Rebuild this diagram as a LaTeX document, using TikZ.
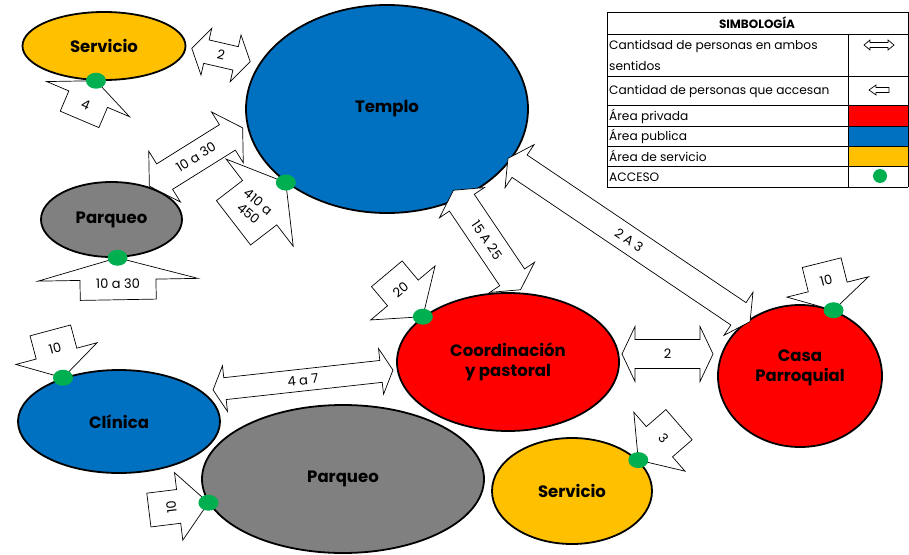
\documentclass[tikz,border=0pt]{standalone}
\usepackage{fontspec}
\setmainfont{Poppins}
\usepackage{tikz}
\usetikzlibrary{shapes.geometric}
\usepackage{xcolor}

\definecolor{amarillo}{HTML}{FFC000}
\definecolor{azul}{HTML}{0070C0}
\definecolor{gris}{HTML}{808080}
\definecolor{rojo}{HTML}{FF0000}
\definecolor{verde}{HTML}{00B050}

% block arrow into an access point: tip, angle, length, head, head half width, body half width, text angle, text
\newcommand{\entrada}[8]{%
  \begin{scope}[shift={(#1)},rotate=#2]
    \draw[flecha] (0,0) -- (-#4,#5) -- (-#4,#6) -- (-#3,#6) -- (-#3,-#6)
      -- (-#4,-#6) -- (-#4,-#5) -- cycle;
    \node[numero,rotate=#7] (#1-n) at ({-0.62*#3},0) {#8};
  \end{scope}}
% two-way block arrow: name, centre, angle, half length, head, head half width, body half width, text
\newcommand{\ambos}[8]{%
  \begin{scope}[shift={#2},rotate=#3]
    \draw[flecha] (#4,0) -- ({#4-#5},#6) -- ({#4-#5},#7) -- ({-#4+#5},#7)
      -- ({-#4+#5},#6) -- (-#4,0) -- ({-#4+#5},-#6) -- ({-#4+#5},-#7)
      -- ({#4-#5},-#7) -- ({#4-#5},-#6) -- cycle;
    \node[numero,rotate=#3] (#1) at (0,0) {#8};
  \end{scope}}

\begin{document}
\begin{tikzpicture}[
    x=1pt,y=-1pt,
    zona/.style={ellipse,draw=black,line width=1.8pt,inner sep=0pt,align=center,
                 font=\bfseries\fontsize{16.5}{19.5}\selectfont},
    flecha/.style={draw=black,fill=white,line width=0.7pt,line join=miter},
    numero/.style={font=\fontsize{13}{15}\selectfont,align=center,inner sep=0pt},
    acceso/.style={ellipse,fill=verde,minimum width=20,minimum height=16,inner sep=0pt},
    leyenda/.style={anchor=west,align=left,inner sep=0pt,
                    font=\fontsize{12.2}{21}\selectfont},
    tabla/.style={draw=black,line width=0.6pt}
]
  \fill[white] (0,0) rectangle (909,554);
  \useasboundingbox (0,0) rectangle (909,554);

  % zonas
  \node[zona,fill=amarillo,minimum width=163,minimum height=68] (serv1) at (104,46) {Servicio};
  \node[zona,fill=azul,minimum width=282,minimum height=208] (templo) at (387,109) {Templo};
  \node[zona,fill=gris,minimum width=141,minimum height=75] (parq1) at (111.5,219.5) {Parqueo};
  \node[zona,fill=rojo,minimum width=222,minimum height=138] (coord) at (508,362) {Coordinación\\y pastoral};
  \node[zona,fill=rojo,minimum width=164,minimum height=142] (casa) at (800,376) {};
  \node[font=\bfseries\fontsize{16.5}{19.5}\selectfont,align=center] (casa-t)
    at ([yshift=8]casa.center) {Casa\\Parroquial};
  \node[zona,fill=azul,minimum width=202,minimum height=103] (clinica) at (119,421.5) {Clínica};
  \node[zona,fill=gris,minimum width=282,minimum height=148] (parq2) at (343,479) {Parqueo};
  \node[zona,fill=amarillo,minimum width=160,minimum height=106] (serv2) at (572,491) {Servicio};

  % accesos sobre el borde
  \coordinate (a-serv1) at (serv1.257);
  \coordinate (a-templo) at (templo.216);
  \coordinate (a-parq1) at (parq1.279);
  \coordinate (a-coord) at (coord.152);
  \coordinate (a-casa) at (casa.63);
  \coordinate (a-clinica) at (clinica.142);
  \coordinate (a-parq2) at (parq2.190);
  \coordinate (a-serv2) at (serv2.25);

  % personas que acceden
  \entrada{a-serv1}{67}{42}{20}{45}{21}{-23}{4}
  \entrada{a-templo}{37.6}{66}{33}{55}{28}{-40}{410 a\\450}
  \entrada{a-parq1}{91}{42}{22}{80}{38}{1}{10 a 30}
  \entrada{a-coord}{-50}{56}{31}{42}{20}{40}{20}
  \entrada{a-casa}{-76}{49}{24}{42}{20}{14}{10}
  \entrada{a-clinica}{-75}{49}{25}{42}{21}{15}{10}
  \entrada{a-parq2}{7}{60}{30}{34}{17}{97}{10}
  \entrada{a-serv2}{221}{54}{28}{39}{20}{-49}{3}

  % personas en ambos sentidos
  \ambos{f-dos}{(221,55)}{-13}{30}{15}{24}{12}{2}
  \ambos{f-diez}{(196,157)}{32}{55}{18}{30}{15}{10 a 30}
  \ambos{f-quince}{(487,240)}{-56}{60}{15}{27}{15}{15 A 25}
  \ambos{f-dosatres}{(629,240)}{-34}{146}{14}{26}{13.5}{2 A 3}
  \ambos{f-dosb}{(667.5,354)}{0}{45.5}{13}{27.5}{14.5}{2}
  \ambos{f-cuatro}{(303,380)}{6.3}{90.5}{12}{23}{11}{4 a 7}

  \foreach \a in {serv1,templo,parq1,coord,casa,clinica,parq2,serv2}
    \node[acceso] (p-\a) at (a-\a) {};

  % simbologia
  \fill[rojo] (848,105) rectangle (908,126);
  \fill[azul] (848,126) rectangle (908,146);
  \fill[amarillo] (848,146) rectangle (908,166);
  \foreach \y in {12,34,76,105,126,146,166,187}
    \draw[tabla] (607,\y) -- (908,\y);
  \draw[tabla] (607,12) -- (607,187);
  \draw[tabla] (908,12) -- (908,187);
  \draw[tabla] (848,34) -- (848,187);

  \node[font=\bfseries\fontsize{12}{14}\selectfont] (l-titulo) at (757,23) {SIMBOLOGÍA};
  \node[leyenda] (l-ambos) at (609,55.5) {Cantidsad de personas en ambos\\sentidos};
  \node[leyenda] (l-entra) at (609,91) {Cantidad de personas que accesan};
  \node[leyenda] (l-priv) at (609,116) {Área privada};
  \node[leyenda] (l-pub) at (609,136) {Área publica};
  \node[leyenda] (l-serv) at (609,156) {Área de servicio};
  \node[leyenda] (l-acc) at (609,177) {ACCESO};

  \ambos{s-ambos}{(879,45)}{0}{15}{6}{5}{2.5}{}
  \coordinate (s-punta) at (869,90);
  \entrada{s-punta}{180}{20}{7}{5}{2.5}{0}{}
  \node[acceso,minimum width=14,minimum height=14] (s-acceso) at (880,176) {};
\end{tikzpicture}
\end{document}
